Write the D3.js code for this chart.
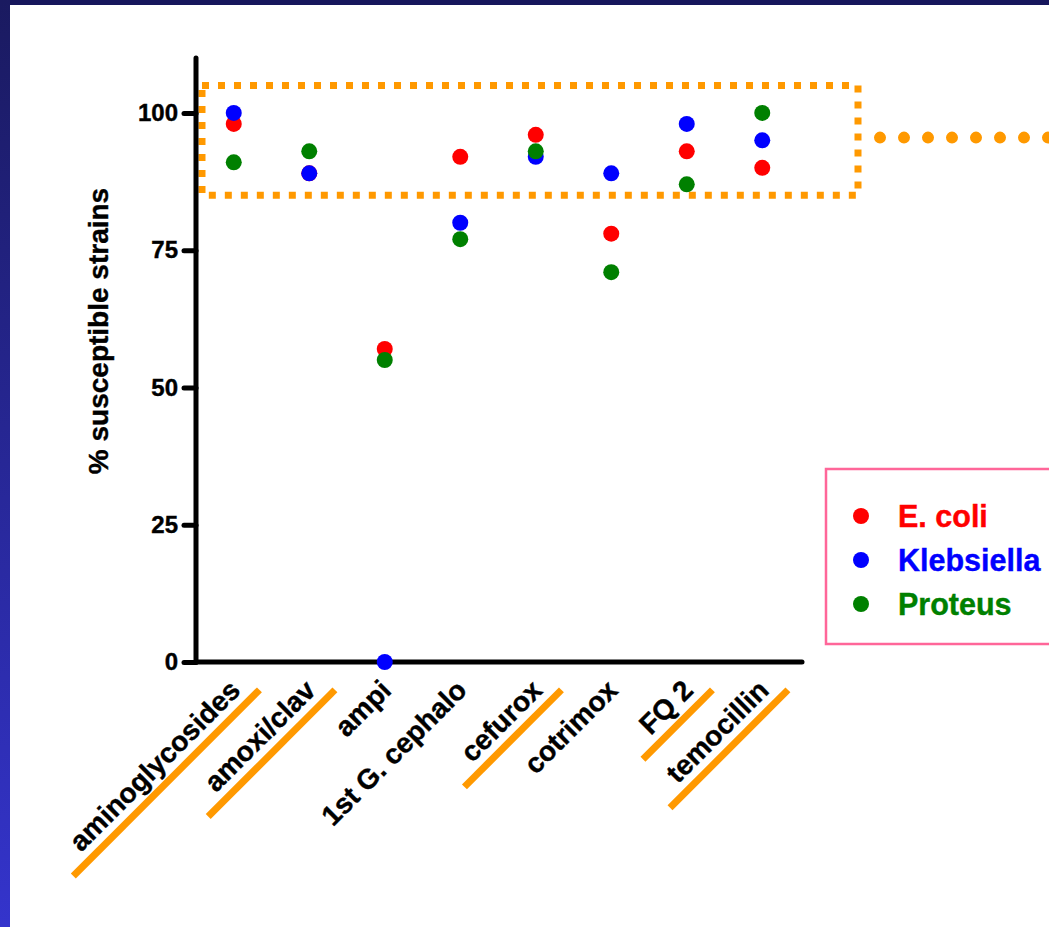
<!DOCTYPE html>
<html>
<head>
<meta charset="utf-8">
<script src="https://cdn.jsdelivr.net/npm/d3@7"></script>
<style>
  html, body { margin: 0; padding: 0; background: #fff; }
  svg { display: block; }
  text { font-family: "Liberation Sans", Arial, Helvetica, sans-serif; font-weight: bold; }
</style>
</head>
<body>
<svg id="chart" width="1049" height="927"></svg>
<script>
const categories = ["aminoglycosides", "amoxi/clav", "ampi", "1st G. cephalo", "cefurox", "cotrimox", "FQ 2", "temocillin"];
const ecoli      = [98, 89, 57, 92, 96, 78, 93, 90];
const klebsiella = [100, 89, 0, 80, 92, 89, 98, 95];
const proteus    = [91, 93, 55, 77, 93, 71, 87, 100];
const seriesNames = ["E. coli", "Klebsiella", "Proteus"];
const seriesColors = ["#ff0000", "#0000ff", "#008000"];
const yTicks = [0, 25, 50, 75, 100];
const yTitle = "% susceptible strains";
const highlighted = ["aminoglycosides", "amoxi/clav", "cefurox", "FQ 2", "temocillin"];
const boxRange = [85, 105];
const calloutLevel = 95.5;

const svg = d3.select("#chart");
const W = 1049, H = 927;
const orange = "#ff9900";

// background frame
const defs = svg.append("defs");
const lg = defs.append("linearGradient").attr("id", "leftGrad").attr("x1", 0).attr("y1", 0).attr("x2", 0).attr("y2", 1);
lg.append("stop").attr("offset", "0%").attr("stop-color", "#1a1a60");
lg.append("stop").attr("offset", "100%").attr("stop-color", "#3434cc");
svg.append("rect").attr("width", W).attr("height", H).attr("fill", "#fff");
svg.append("rect").attr("x", 0).attr("y", 0).attr("width", W).attr("height", 5).attr("fill", "#16165c");
svg.append("rect").attr("x", 0).attr("y", 0).attr("width", 10).attr("height", H).attr("fill", "url(#leftGrad)");

const x = d3.scalePoint().domain(categories).range([196, 800]).padding(0.5);
const y = d3.scaleLinear().domain([0, 110]).range([662, 58]);

// dotted highlight box
const boxG = svg.append("g");
boxG.append("rect")
  .attr("x", 202).attr("y", y(boxRange[1]))
  .attr("width", 858 - 202).attr("height", y(boxRange[0]) - y(boxRange[1]))
  .attr("fill", "none").attr("stroke", orange).attr("stroke-width", 7)
  .attr("stroke-dasharray", "7 9");
boxG.append("line")
  .attr("x1", 880).attr("x2", W + 20).attr("y1", y(calloutLevel)).attr("y2", y(calloutLevel))
  .attr("stroke", orange).attr("stroke-width", 12).attr("stroke-linecap", "round")
  .attr("stroke-dasharray", "0 24");

// y axis
const yAxis = d3.axisLeft(y).tickValues(yTicks).tickSize(12).tickPadding(6);
const yg = svg.append("g").attr("transform", "translate(196,0)").call(yAxis);
yg.select(".domain").remove();
yg.selectAll(".tick line").attr("stroke", "#000").attr("stroke-width", 5).attr("stroke-linecap", "round");
yg.selectAll(".tick text").attr("fill", "#000").attr("stroke", "#000").attr("stroke-width", 0.4)
  .style("font-size", "24px").style("font-weight", "bold")
  .style("font-family", "'Liberation Sans', Arial, sans-serif");

svg.append("line").attr("x1", 196).attr("x2", 196).attr("y1", y(110)).attr("y2", y(0))
  .attr("stroke", "#000").attr("stroke-width", 5).attr("stroke-linecap", "round");
svg.append("line").attr("x1", 196).attr("x2", 802).attr("y1", y(0)).attr("y2", y(0))
  .attr("stroke", "#000").attr("stroke-width", 5).attr("stroke-linecap", "round");

// y title
svg.append("text")
  .attr("transform", `translate(108,331) rotate(-90)`)
  .attr("text-anchor", "middle")
  .style("font-size", "28px")
  .attr("fill", "#000").attr("stroke", "#000").attr("stroke-width", 0.4)
  .text(yTitle);

// x labels
const labG = svg.append("g");
categories.forEach(c => {
  const g = labG.append("g").attr("transform", `translate(${x(c) + 8},692) rotate(-45)`);
  const t = g.append("text").attr("text-anchor", "end").style("font-size", "28px")
    .attr("fill", "#000").attr("stroke", "#000").attr("stroke-width", 0.4).text(c);
  if (highlighted.includes(c)) {
    const len = t.node().getComputedTextLength();
    g.insert("line", "text")
      .attr("x1", -(len + 22)).attr("x2", 14).attr("y1", 11).attr("y2", 11)
      .attr("stroke", orange).attr("stroke-width", 7);
  }
});

// points
const allSeries = [ecoli, klebsiella, proteus];
allSeries.forEach((vals, si) => {
  svg.append("g").selectAll("circle")
    .data(vals.map((v, i) => ({ c: categories[i], v })))
    .join("circle")
    .attr("cx", d => x(d.c)).attr("cy", d => y(d.v)).attr("r", 8)
    .attr("fill", seriesColors[si]);
});

// legend
const leg = svg.append("g");
leg.append("rect").attr("x", 826).attr("y", 469).attr("width", 260).attr("height", 175)
  .attr("fill", "#fff").attr("stroke", "#ff6699").attr("stroke-width", 2.5);
seriesNames.forEach((n, i) => {
  const cy = 516 + i * 44;
  leg.append("circle").attr("cx", 861).attr("cy", cy).attr("r", 8).attr("fill", seriesColors[i]);
  leg.append("text").attr("x", 898).attr("y", cy + 11).style("font-size", "30.5px")
    .attr("fill", seriesColors[i]).attr("stroke", seriesColors[i]).attr("stroke-width", 0.4).text(n);
});
</script>
</body>
</html>
